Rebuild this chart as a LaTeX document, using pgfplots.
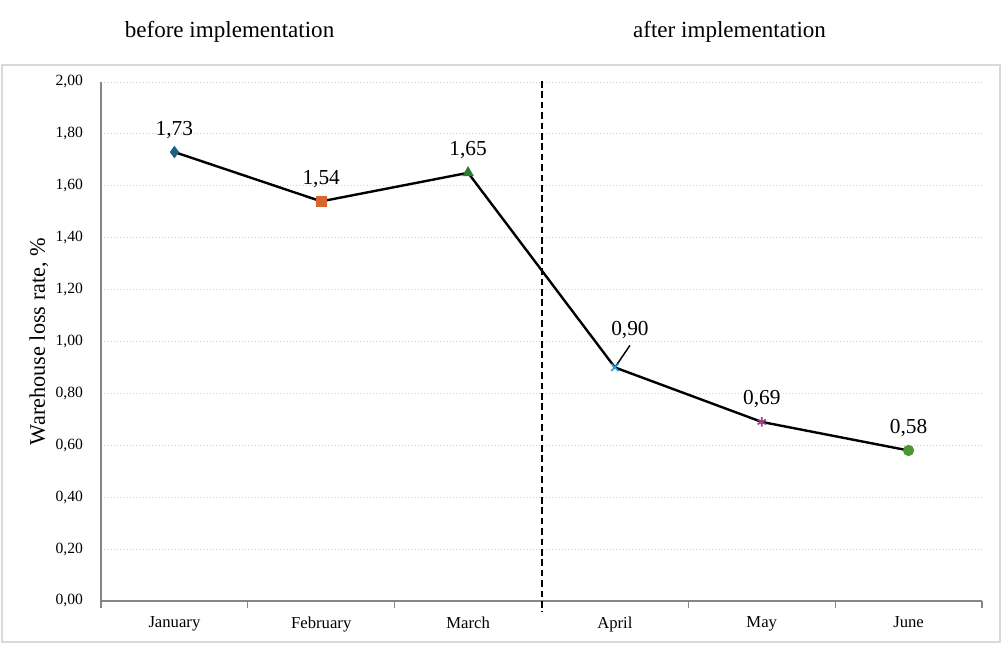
\documentclass[border=0pt]{standalone}
\usepackage{fontspec}
\setmainfont{Liberation Serif}
\usepackage{pgfplots}
\pgfplotsset{compat=1.18}
\definecolor{cJan}{HTML}{1F5F7F}
\definecolor{cFeb}{HTML}{D6652E}
\definecolor{cMar}{HTML}{2E7A32}
\definecolor{cApr}{HTML}{2E9ED6}
\definecolor{cMay}{HTML}{9A3D8E}
\definecolor{cJun}{HTML}{48982F}
\definecolor{axgray}{HTML}{868686}
\definecolor{gridgray}{HTML}{CFCFCF}
\definecolor{framegray}{HTML}{D9D9D9}
\begin{document}
\begin{tikzpicture}
\useasboundingbox (-75.75pt,-33pt) rectangle (677.25pt,450.75pt);
\draw[framegray, line width=0.9pt] (-74.25pt,-30.75pt) rectangle (674.25pt,402pt);
\node[font=\fontsize{17.3}{20}\selectfont] at (96.4pt,427pt) {before implementation};
\node[font=\fontsize{17.3}{20}\selectfont] at (471.4pt,427pt) {after implementation};
\begin{axis}[
  at={(0,0)}, anchor=south west,
  scale only axis, width=660.75pt, height=389.25pt,
  clip=false,
  xmin=-0.5, xmax=5.5, ymin=0, ymax=2,
  axis x line*=bottom, axis y line*=left,
  axis line style={axgray, line width=1.2pt, -},
  xtick={0,1,2,3,4,5},
  xticklabels={January,February,March,April,May,June},
  major tick length=0pt,
  major x tick style={draw=none},
  major y tick style={draw=none},
  minor xtick={-0.5,0.5,1.5,2.5,3.5,4.5,5.5},
  minor x tick style={axgray, line width=0.9pt},
  minor tick length=5pt,
  tick align=outside,
  ytick={0,0.2,0.4,0.6,0.8,1.0,1.2,1.4,1.6,1.8,2.0},
  ymajorgrids,
  grid style={gridgray, dotted, line width=0.7pt},
  /pgf/number format/fixed,
  /pgf/number format/fixed zerofill,
  /pgf/number format/precision=2,
  /pgf/number format/use comma,
  /pgf/number format/assume math mode=true,
  yticklabel style={font=\fontsize{11.7}{13}\selectfont, xshift=-10pt},
  xticklabel style={font=\fontsize{12.5}{14}\selectfont, yshift=-8.5pt},
  ylabel={Warehouse loss rate, \%},
  ylabel style={font=\fontsize{16.7}{19}\selectfont, at={(axis description cs:-0.0705,0.5)}, anchor=center},
  every node near coord/.append style={font=\fontsize{16}{19}\selectfont, text=black, anchor=base, yshift=12.75pt, inner sep=0pt},
]
\addplot[black, line width=1.8pt, mark=none] coordinates {(0,1.73) (1,1.54) (2,1.65) (3,0.90) (4,0.69) (5,0.58)};
\addplot[only marks, mark=diamond*, mark size=4.3pt, color=cJan, nodes near coords] coordinates {(0,1.73)};
\addplot[only marks, mark=square*, mark size=3.8pt, color=cFeb, nodes near coords] coordinates {(1,1.54)};
\addplot[only marks, mark=triangle*, mark size=4.6pt, color=cMar, nodes near coords] coordinates {(2,1.65)};
\addplot[only marks, mark=x, mark size=3.8pt, line width=1.2pt, color=cApr, nodes near coords,
  every node near coord/.append style={xshift=11.25pt, yshift=11.25pt}] coordinates {(3,0.90)};
\addplot[only marks, mark=asterisk, mark size=3.6pt, line width=1.2pt, color=cMay, nodes near coords] coordinates {(4,0.69)};
\addplot[only marks, mark=*, mark size=4pt, color=cJun, nodes near coords] coordinates {(5,0.58)};
\draw[black, line width=1.1pt] (axis cs:3,0.90) -- ++(11.25pt,16.5pt);
\draw[black, line width=1.5pt, dash pattern=on 5pt off 2.8pt] (axis cs:2.5,2.004) -- (axis cs:2.5,-0.042);
\end{axis}
\end{tikzpicture}
\end{document}
